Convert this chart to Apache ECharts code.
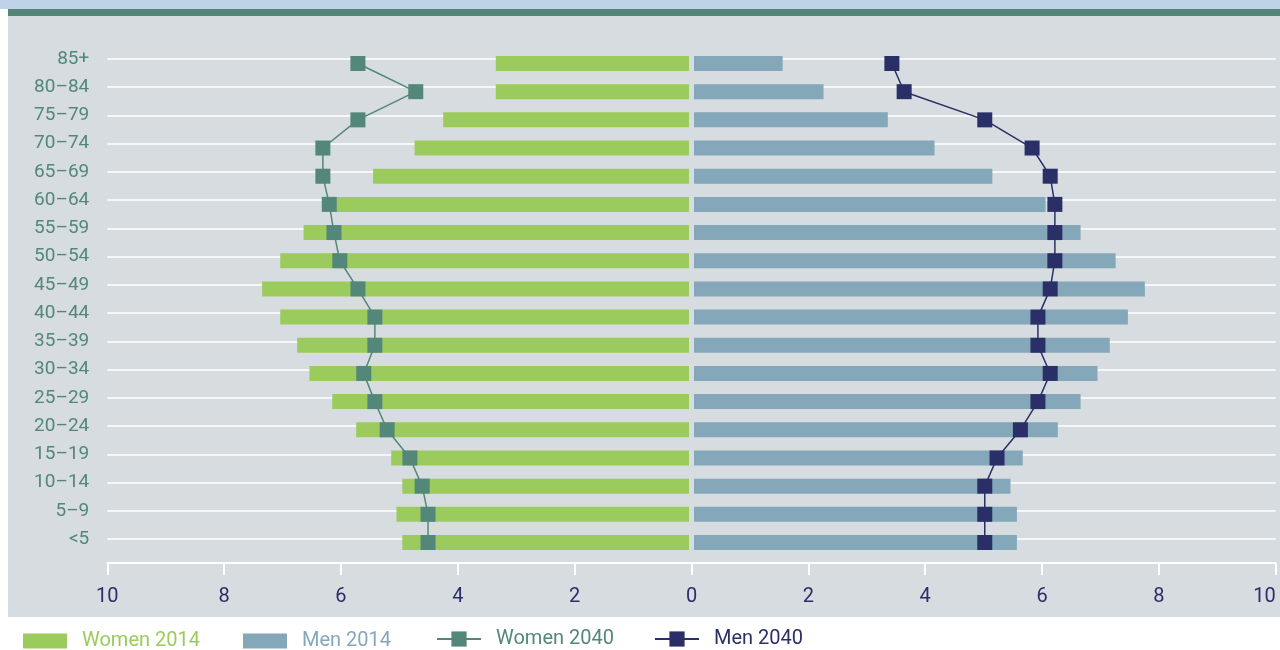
<!DOCTYPE html>
<html><head><meta charset="utf-8">
<script src="https://cdn.jsdelivr.net/npm/echarts@6/dist/echarts.min.js"></script>
<style>html,body{margin:0;padding:0;background:#fff}#c{width:1280px;height:650px}</style>
</head><body><div id="c"></div>
<script>
const ageGroups = ['85+','80–84','75–79','70–74','65–69','60–64','55–59','50–54','45–49','40–44','35–39','30–34','25–29','20–24','15–19','10–14','5–9','<5'];
const women2014 = [3.35,3.35,4.25,4.74,5.45,6.08,6.64,7.04,7.35,7.04,6.75,6.54,6.15,5.74,5.14,4.95,5.05,4.95];
const men2014   = [1.56,2.26,3.36,4.16,5.15,6.06,6.66,7.26,7.76,7.47,7.16,6.95,6.66,6.27,5.67,5.46,5.57,5.57];
const women2040 = [5.71,4.72,5.71,6.31,6.31,6.2,6.12,6.02,5.71,5.42,5.42,5.61,5.42,5.21,4.82,4.61,4.51,4.51];
const men2040   = [3.43,3.64,5.02,5.83,6.14,6.22,6.22,6.22,6.14,5.93,5.93,6.14,5.93,5.63,5.23,5.02,5.02,5.02];
const axisMin = -10, axisMax = 10, axisStep = 2;

const C = {
  bg: '#d6dce0', green: '#9ccb5d', blue: '#84a7b9', teal: '#52877a', navy: '#2b2f68',
  topBlue: '#bfd3e8', stripe: '#538676'
};
const FONT = 'Roboto';

const chart = echarts.init(document.getElementById('c'), null, {renderer: 'canvas'});

function legendItem(name, left, color, isLine) {
  return {
    left: left, top: isLine ? 629 : 631, orient: 'horizontal', padding: 0,
    itemWidth: 44, itemHeight: isLine ? 19 : 15,
    data: [isLine ? {name: name} : {name: name, icon: 'rect'}],
    textStyle: {color: color, fontSize: 20, fontFamily: FONT, padding: [0, 0, 0, 10]},
    selectedMode: true
  };
}

chart.setOption({
  animation: false,
  backgroundColor: C.bg,
  grid: [
    {left: 107.3, right: 4.3, top: 59, height: 480, containLabel: false},
    {left: 107.3, right: 4.3, top: 63.5, height: 479, containLabel: false}
  ],
  xAxis: [
    {
      gridIndex: 0, type: 'value', min: axisMin, max: axisMax, interval: axisStep,
      position: 'bottom', offset: 24,
      axisLine: {show: true, onZero: false, lineStyle: {color: '#ffffff', width: 2}},
      axisTick: {show: true, length: 12, lineStyle: {color: '#ffffff', width: 2}},
      axisLabel: {formatter: v => String(Math.abs(v)), color: C.navy, fontSize: 20, fontFamily: FONT, margin: 24, alignMaxLabel: 'right'},
      splitLine: {show: false}
    },
    {gridIndex: 1, type: 'value', min: axisMin, max: axisMax, show: false, splitLine: {show: false}}
  ],
  yAxis: [
    {
      gridIndex: 0, type: 'category', data: ageGroups, inverse: true, boundaryGap: false,
      axisLine: {show: false}, axisTick: {show: false, interval: 0},
      axisLabel: {interval: 0, color: C.teal, fontSize: 19, fontFamily: FONT, margin: 18},
      splitLine: {show: true, interval: 0, lineStyle: {color: '#ffffff', width: 1.5}}
    },
    {gridIndex: 1, type: 'category', data: ageGroups, inverse: true, boundaryGap: false, show: false}
  ],
  legend: [
    legendItem('Women 2014', 23, C.green, false),
    legendItem('Men 2014', 243, C.blue, false),
    legendItem('Women 2040', 436, C.teal, true),
    legendItem('Men 2040', 654, C.navy, true)
  ],
  series: [
    {name: 'Women 2014', type: 'bar', xAxisIndex: 1, yAxisIndex: 1, stack: 'pop', barWidth: 15,
     itemStyle: {color: C.green}, data: women2014.map(v => -v)},
    {name: 'Men 2014', type: 'bar', xAxisIndex: 1, yAxisIndex: 1, stack: 'pop', barWidth: 15,
     itemStyle: {color: C.blue}, data: men2014},
    {name: 'Women 2040', type: 'line', xAxisIndex: 1, yAxisIndex: 1, z: 5,
     symbol: 'rect', symbolSize: 15, lineStyle: {color: C.teal, width: 1.5},
     itemStyle: {color: C.teal}, data: women2040.map(v => -v)},
    {name: 'Men 2040', type: 'line', xAxisIndex: 1, yAxisIndex: 1, z: 5,
     symbol: 'rect', symbolSize: 15, lineStyle: {color: C.navy, width: 1.5},
     itemStyle: {color: C.navy}, data: men2040}
  ]
});

// decorations: white margins, header stripes, and the small gap at zero between the two halves
const x0 = chart.convertToPixel({xAxisIndex: 1}, 0);
const yFirst = chart.convertToPixel({yAxisIndex: 1}, 0);
const yLast = chart.convertToPixel({yAxisIndex: 1}, ageGroups.length - 1);
chart.setOption({
  graphic: [
    {type: 'rect', z: 0, shape: {x: 0, y: 617, width: 1280, height: 33}, style: {fill: '#ffffff'}, silent: true},
    {type: 'rect', z: 0, shape: {x: 0, y: 0, width: 8, height: 650}, style: {fill: '#ffffff'}, silent: true},
    {type: 'rect', z: 0, shape: {x: 0, y: 0, width: 1280, height: 9}, style: {fill: C.topBlue}, silent: true},
    {type: 'rect', z: 0, shape: {x: 8, y: 9, width: 1272, height: 7}, style: {fill: C.stripe}, silent: true},
    {type: 'rect', z: 3, shape: {x: x0 - 2.5, y: yFirst - 8, width: 5, height: yLast - yFirst + 16}, style: {fill: C.bg}, silent: true}
  ]
});
</script>
</body></html>
